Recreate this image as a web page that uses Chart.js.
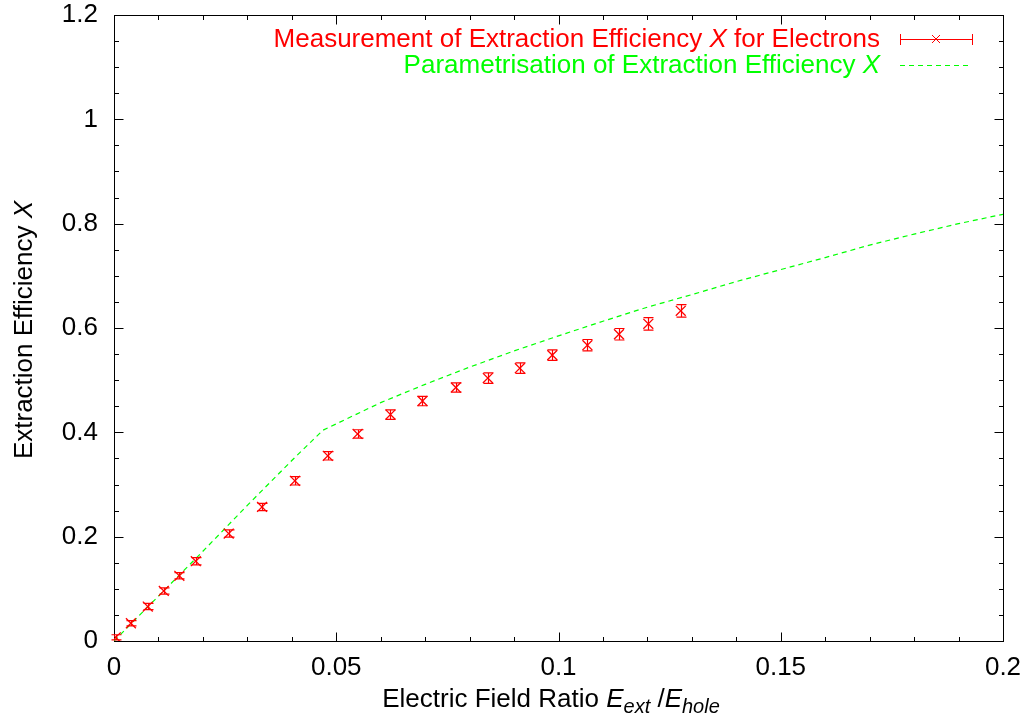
<!DOCTYPE html>
<html>
<head>
<meta charset="utf-8">
<script src="https://cdn.jsdelivr.net/npm/chart.js@4.4.1/dist/chart.umd.min.js"></script>
<style>
  html, body { margin: 0; padding: 0; background: #fff; overflow: hidden; }
  #wrap { position: relative; width: 1026px; height: 728px; }
</style>
</head>
<body>
<div id="wrap"><canvas id="chart"></canvas></div>
<script>
// measured extraction efficiency (points with y error bars)
const xMeas = [0.0004, 0.0038, 0.0076, 0.0112, 0.0147, 0.0184, 0.0258, 0.0333, 0.0407, 0.0481, 0.0548,
               0.0622, 0.0694, 0.0769, 0.0841, 0.0913, 0.0986, 0.1065, 0.1136, 0.1202, 0.1275];
const yMeas = [0.007, 0.034, 0.066, 0.096, 0.125, 0.153, 0.206, 0.257, 0.307, 0.355, 0.397,
               0.434, 0.460, 0.486, 0.504, 0.523, 0.548, 0.567, 0.588, 0.608, 0.633];
const yErr  = [0.005, 0.005, 0.006, 0.006, 0.006, 0.007, 0.007, 0.007, 0.008, 0.008, 0.008,
               0.009, 0.009, 0.009, 0.010, 0.010, 0.010, 0.011, 0.011, 0.012, 0.012];

// parametrisation curve
const xPar = [0, 0.01, 0.02, 0.03, 0.04, 0.047, 0.06, 0.07, 0.08, 0.09, 0.10,
              0.11, 0.12, 0.13, 0.14, 0.15, 0.16, 0.17, 0.18, 0.19, 0.20];
const yPar = [0, 0.086, 0.172, 0.26, 0.346, 0.404, 0.457, 0.492, 0.525, 0.556, 0.585,
              0.613, 0.64, 0.664, 0.689, 0.712, 0.735, 0.759, 0.78, 0.80, 0.818];

const xTicks = [0, 0.05, 0.1, 0.15, 0.2];
const yTicks = [0, 0.2, 0.4, 0.6, 0.8, 1, 1.2];
const xMinorStep = 0.01;
const yMinorStep = 0.05;

const FONT = '"Liberation Sans", Arial, Helvetica, sans-serif';
const FS = 26;
const RED = '#ff0000';
const GREEN = '#00ff00';

// draws a line of text made of parts {t, it, sub}; align: 'left' | 'center' | 'right'
function richText(ctx, parts, x, y, size, color, align) {
    const fontOf = p => (p.it ? 'italic ' : '') + (p.sub ? Math.round(size * 0.75) : size) + 'px ' + FONT;
    let total = 0;
    parts.forEach(p => { ctx.font = fontOf(p); total += ctx.measureText(p.t).width; });
    let cx = align === 'center' ? x - total / 2 : align === 'right' ? x - total : x;
    ctx.fillStyle = color;
    ctx.textAlign = 'left';
    ctx.textBaseline = 'alphabetic';
    parts.forEach(p => {
        ctx.font = fontOf(p);
        ctx.fillText(p.t, cx, y + (p.sub ? size * 0.22 : 0));
        cx += ctx.measureText(p.t).width;
    });
}

const gnuplotFrame = {
    id: 'gnuplotFrame',
    beforeDatasetsDraw(chart) {
        const { ctx, chartArea: a, scales: { x, y } } = chart;
        const L = Math.round(a.left) + 0.5, R = Math.round(a.right) + 0.5;
        const T = Math.round(a.top) + 0.5, B = Math.round(a.bottom) + 0.5;
        ctx.save();
        ctx.strokeStyle = '#000';
        ctx.lineWidth = 1;
        ctx.strokeRect(L, T, R - L, B - T);
        ctx.beginPath();
        for (let v = 0; v <= 0.2 + 1e-9; v += xMinorStep) {
            const major = xTicks.some(t => Math.abs(t - v) < 1e-9);
            const len = major ? 9 : 4.5;
            const px = Math.round(x.getPixelForValue(v)) + 0.5;
            ctx.moveTo(px, B); ctx.lineTo(px, B - len);
            ctx.moveTo(px, T); ctx.lineTo(px, T + len);
        }
        for (let v = 0; v <= 1.2 + 1e-9; v += yMinorStep) {
            const major = yTicks.some(t => Math.abs(t - v) < 1e-9);
            const len = major ? 9 : 4.5;
            const py = Math.round(y.getPixelForValue(v)) + 0.5;
            ctx.moveTo(L, py); ctx.lineTo(L + len, py);
            ctx.moveTo(R, py); ctx.lineTo(R - len, py);
        }
        ctx.stroke();
        ctx.restore();
    },
    afterDatasetsDraw(chart) {
        const { ctx, scales: { x, y } } = chart;
        ctx.save();
        // y error bars
        ctx.strokeStyle = RED;
        ctx.lineWidth = 1.2;
        ctx.beginPath();
        xMeas.forEach((xv, i) => {
            const px = Math.round(x.getPixelForValue(xv)) + 0.5;
            const lo = y.getPixelForValue(yMeas[i] - yErr[i]);
            const hi = y.getPixelForValue(yMeas[i] + yErr[i]);
            ctx.moveTo(px, lo); ctx.lineTo(px, hi);
            ctx.moveTo(px - 5, lo); ctx.lineTo(px + 5, lo);
            ctx.moveTo(px - 5, hi); ctx.lineTo(px + 5, hi);
        });
        ctx.stroke();
        ctx.lineWidth = 1;

        // key
        richText(ctx, [{ t: 'Measurement of Extraction Efficiency ' }, { t: 'X', it: true }, { t: ' for Electrons' }],
                 880, 47, FS, RED, 'right');
        ctx.strokeStyle = RED;
        ctx.beginPath();
        ctx.moveTo(900, 39.5); ctx.lineTo(972, 39.5);
        ctx.moveTo(900.5, 34); ctx.lineTo(900.5, 45);
        ctx.moveTo(972.5, 34); ctx.lineTo(972.5, 45);
        ctx.moveTo(932, 35); ctx.lineTo(940, 43);
        ctx.moveTo(932, 43); ctx.lineTo(940, 35);
        ctx.stroke();
        richText(ctx, [{ t: 'Parametrisation of Extraction Efficiency ' }, { t: 'X', it: true }],
                 880, 73, FS, GREEN, 'right');
        ctx.strokeStyle = GREEN;
        ctx.setLineDash([5, 4]);
        ctx.beginPath();
        ctx.moveTo(900, 65.5); ctx.lineTo(972, 65.5);
        ctx.stroke();
        ctx.setLineDash([]);

        // axis titles
        richText(ctx, [{ t: 'Electric Field Ratio ' }, { t: 'E', it: true }, { t: 'ext', it: true, sub: true },
                       { t: ' /' }, { t: 'E', it: true }, { t: 'hole', it: true, sub: true }],
                 551, 707, FS, '#000', 'center');
        ctx.translate(32, 330);
        ctx.rotate(-Math.PI / 2);
        richText(ctx, [{ t: 'Extraction Efficiency ' }, { t: 'X', it: true }], 0, 0, FS, '#000', 'center');
        ctx.restore();
    }
};

new Chart(document.getElementById('chart'), {
    type: 'scatter',
    data: {
        datasets: [{
            label: 'Measurement of Extraction Efficiency X for Electrons',
            data: xMeas.map((v, i) => ({ x: v, y: yMeas[i] })),
            pointStyle: 'crossRot',
            pointRadius: 7,
            borderColor: RED,
            backgroundColor: RED,
            borderWidth: 1.3,
            showLine: false,
        }, {
            label: 'Parametrisation of Extraction Efficiency X',
            data: xPar.map((v, i) => ({ x: v, y: yPar[i] })),
            showLine: true,
            pointRadius: 0,
            borderColor: GREEN,
            borderWidth: 1.2,
            borderDash: [5, 4],
            tension: 0,
            fill: false,
        }]
    },
    options: {
        responsive: true,
        maintainAspectRatio: false,
        animation: false,
        layout: { padding: { top: 15, right: 23, left: 0, bottom: 0 } },
        plugins: { legend: { display: false }, tooltip: { enabled: false } },
        scales: {
            x: {
                type: 'linear', min: 0, max: 0.2,
                afterBuildTicks: s => { s.ticks = xTicks.map(v => ({ value: v })); },
                afterFit: s => { s.height = 87; s.paddingLeft = 0; s.paddingRight = 0; },
                grid: { display: false, drawTicks: false },
                border: { display: false },
                ticks: {
                    padding: 11, color: '#000', maxRotation: 0,
                    font: { family: FONT, size: FS },
                    callback: v => String(+v.toFixed(2)),
                },
            },
            y: {
                type: 'linear', min: 0, max: 1.2,
                afterBuildTicks: s => { s.ticks = yTicks.map(v => ({ value: v })); },
                afterFit: s => { s.width = 114; s.paddingTop = 0; s.paddingBottom = 0; },
                grid: { display: false, drawTicks: false },
                border: { display: false },
                ticks: {
                    padding: 16, color: '#000',
                    font: { family: FONT, size: FS },
                    callback: v => String(+v.toFixed(2)),
                },
            }
        }
    },
    plugins: [gnuplotFrame]
});
</script>
</body>
</html>
